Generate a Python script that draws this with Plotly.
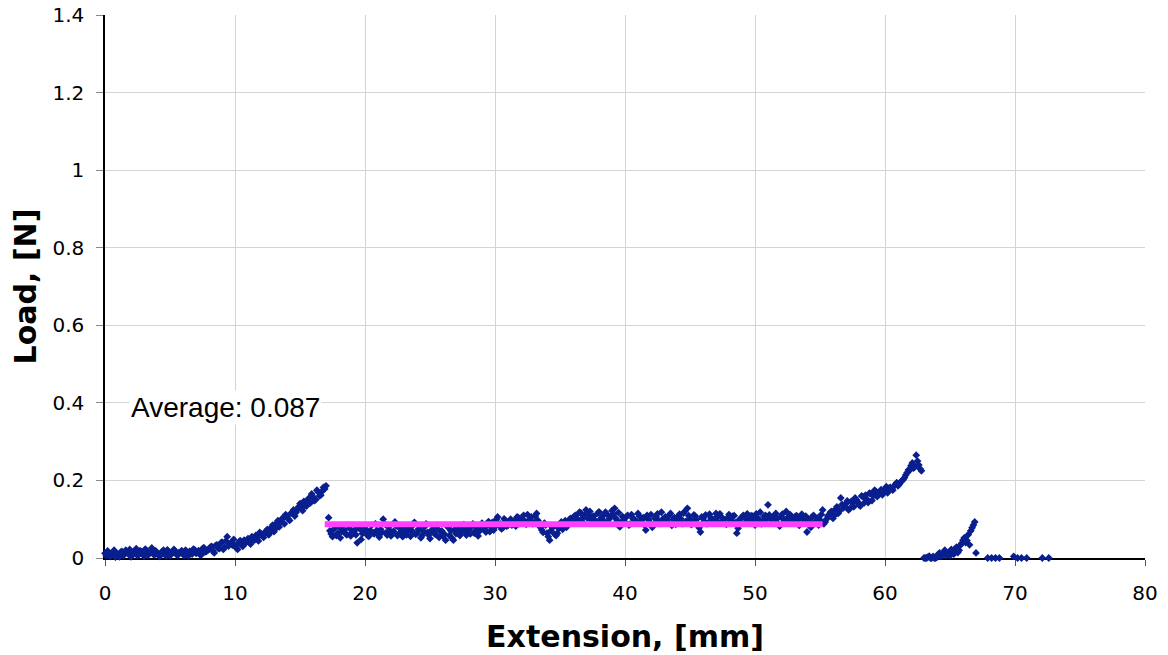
import plotly.graph_objects as go

# Load vs extension readings, grouped by test phase
ext_a = [0.0, 0.2, 0.4, 0.6, 0.8, 1.0, 1.2, 1.4, 1.6, 1.8,
         2.0, 2.2, 2.4, 2.6, 2.8, 3.0, 3.2, 3.4, 3.6, 3.8,
         4.0, 4.2, 4.4, 4.6, 4.8, 5.0, 5.2, 5.4, 5.6, 5.8,
         6.0, 6.2, 6.4, 6.6, 6.8, 7.0, 7.2, 7.4, 7.6, 7.8,
         8.0, 8.2, 8.4, 8.6, 8.8, 9.0, 9.2, 9.4, 9.6, 9.8]
load_a = [0.012, 0.018, 0.004, 0.010, 0.002, 0.008, 0.015, 0.006, 0.020, 0.011,
          0.003, 0.013, 0.024, 0.009, 0.016, 0.005, 0.019, 0.012, 0.026, 0.008,
          0.014, 0.004, 0.017, 0.010, 0.021, 0.006, 0.013, 0.018, 0.007, 0.015,
          0.011, 0.020, 0.005, 0.016, 0.023, 0.012, 0.019, 0.008, 0.027, 0.017,
          0.022, 0.030, 0.013, 0.034, 0.024, 0.041, 0.028, 0.055, 0.036, 0.033]
ext_a2 = [0.1, 0.3, 0.5, 0.7, 0.9, 1.1, 1.3, 1.5, 1.7, 1.9,
          2.1, 2.3, 2.5, 2.7, 2.9, 3.1, 3.3, 3.5, 3.7, 3.9,
          4.1, 4.3, 4.5, 4.7, 4.9, 5.1, 5.3, 5.5, 5.7, 5.9,
          6.1, 6.3, 6.5, 6.7, 6.9, 7.1, 7.3, 7.5, 7.7, 7.9,
          8.1, 8.3, 8.5, 8.7, 8.9, 9.1, 9.3, 9.5, 9.7, 9.9]
load_a2 = [0.006, 0.014, 0.009, 0.020, 0.012, 0.003, 0.017, 0.010, 0.013, 0.022,
           0.008, 0.016, 0.006, 0.019, 0.011, 0.023, 0.007, 0.015, 0.010, 0.018,
           0.009, 0.012, 0.020, 0.005, 0.016, 0.011, 0.022, 0.009, 0.014, 0.019,
           0.006, 0.013, 0.017, 0.010, 0.021, 0.014, 0.009, 0.024, 0.016, 0.020,
           0.028, 0.018, 0.032, 0.025, 0.038, 0.022, 0.044, 0.031, 0.040, 0.048]

ext_b = [10.0, 10.2, 10.4, 10.6, 10.8, 11.0, 11.2, 11.4, 11.6, 11.8,
         12.0, 12.2, 12.4, 12.6, 12.8, 13.0, 13.2, 13.4, 13.6, 13.8,
         14.0, 14.2, 14.4, 14.6, 14.8, 15.0, 15.2, 15.4, 15.6, 15.8,
         16.0, 16.2, 16.4, 16.6, 16.8, 17.0]
load_b = [0.032, 0.022, 0.045, 0.030, 0.038, 0.050, 0.036, 0.048, 0.058, 0.044,
          0.062, 0.053, 0.070, 0.060, 0.078, 0.068, 0.090, 0.080, 0.100, 0.088,
          0.106, 0.097, 0.118, 0.108, 0.126, 0.140, 0.122, 0.136, 0.150, 0.142,
          0.158, 0.150, 0.170, 0.162, 0.182, 0.186]
ext_b2 = [10.1, 10.3, 10.5, 10.7, 10.9, 11.1, 11.3, 11.5, 11.7, 11.9,
          12.1, 12.3, 12.5, 12.7, 12.9, 13.1, 13.3, 13.5, 13.7, 13.9,
          14.1, 14.3, 14.5, 14.7, 14.9, 15.1, 15.3, 15.5, 15.7, 15.9,
          16.1, 16.3, 16.5, 16.7, 16.9]
load_b2 = [0.026, 0.040, 0.034, 0.046, 0.042, 0.040, 0.055, 0.046, 0.052, 0.066,
           0.058, 0.065, 0.074, 0.066, 0.085, 0.075, 0.096, 0.092, 0.104, 0.112,
           0.100, 0.115, 0.124, 0.118, 0.132, 0.128, 0.146, 0.134, 0.155, 0.165,
           0.148, 0.175, 0.160, 0.172, 0.178]

ext_c = [17.2, 17.4, 17.6, 17.8, 18.0, 18.2, 18.4, 18.6, 18.8, 19.0,
         19.2, 19.4, 19.6, 19.8, 20.0, 20.2, 20.4, 20.6, 20.8, 21.0,
         21.2, 21.4, 21.6, 21.8, 22.0, 22.2, 22.4, 22.6, 22.8, 23.0,
         23.2, 23.4, 23.6, 23.8, 24.0, 24.2, 24.4, 24.6, 24.8, 25.0,
         25.2, 25.4, 25.6, 25.8, 26.0, 26.2, 26.4, 26.6, 26.8, 27.0,
         27.2, 27.4, 27.6, 27.8, 28.0, 28.2, 28.4, 28.6, 28.8, 29.0,
         29.2, 29.4, 29.6, 29.8, 30.0, 30.2, 30.4, 30.6, 30.8, 31.0,
         31.2, 31.4, 31.6, 31.8, 32.0, 32.2, 32.4, 32.6, 32.8, 33.0,
         33.2, 33.4, 33.6, 33.8, 34.0, 34.2, 34.4, 34.6, 34.8, 35.0,
         35.2, 35.4, 35.6, 35.8, 36.0, 36.2, 36.4, 36.6, 36.8, 37.0,
         37.2, 37.4, 37.6, 37.8, 38.0, 38.2, 38.4, 38.6, 38.8, 39.0,
         39.2, 39.4, 39.6, 39.8, 40.0, 40.2, 40.4, 40.6, 40.8, 41.0,
         41.2, 41.4, 41.6, 41.8, 42.0, 42.2, 42.4, 42.6, 42.8, 43.0,
         43.2, 43.4, 43.6, 43.8, 44.0, 44.2, 44.4, 44.6, 44.8, 45.0,
         45.2, 45.4, 45.6, 45.8, 46.0, 46.2, 46.4, 46.6, 46.8, 47.0,
         47.2, 47.4, 47.6, 47.8, 48.0, 48.2, 48.4, 48.6, 48.8, 49.0,
         49.2, 49.4, 49.6, 49.8, 50.0, 50.2, 50.4, 50.6, 50.8, 51.0,
         51.2, 51.4, 51.6, 51.8, 52.0, 52.2, 52.4, 52.6, 52.8, 53.0,
         53.2, 53.4, 53.6, 53.8, 54.0, 54.2, 54.4, 54.6, 54.8, 55.0,
         55.2]
load_c = [0.104, 0.062, 0.074, 0.058, 0.080, 0.068, 0.072, 0.060, 0.077, 0.066,
          0.071, 0.039, 0.076, 0.063, 0.082, 0.058, 0.070, 0.066, 0.088, 0.061,
          0.074, 0.100, 0.065, 0.079, 0.057, 0.069, 0.083, 0.062, 0.073, 0.068,
          0.060, 0.078, 0.070, 0.092, 0.064, 0.075, 0.058, 0.081, 0.066, 0.050,
          0.072, 0.061, 0.084, 0.068, 0.057, 0.046, 0.079, 0.070, 0.046, 0.063,
          0.075, 0.066, 0.086, 0.059, 0.072, 0.081, 0.064, 0.078, 0.069, 0.090,
          0.074, 0.085, 0.068, 0.092, 0.080, 0.106, 0.088, 0.078, 0.096, 0.084,
          0.100, 0.090, 0.082, 0.104, 0.095, 0.110, 0.087, 0.098, 0.106, 0.092,
          0.115, 0.083, 0.072, 0.090, 0.064, 0.046, 0.078, 0.061, 0.064, 0.088,
          0.074, 0.096, 0.085, 0.102, 0.094, 0.110, 0.099, 0.116, 0.105, 0.124,
          0.112, 0.098, 0.108, 0.092, 0.119, 0.104, 0.095, 0.113, 0.101, 0.122,
          0.128, 0.096, 0.080, 0.107, 0.093, 0.110, 0.088, 0.102, 0.097, 0.115,
          0.090, 0.104, 0.072, 0.099, 0.112, 0.086, 0.106, 0.095, 0.118, 0.092,
          0.100, 0.110, 0.084, 0.104, 0.096, 0.113, 0.089, 0.120, 0.128, 0.101,
          0.094, 0.108, 0.086, 0.067, 0.102, 0.111, 0.091, 0.104, 0.098, 0.115,
          0.092, 0.106, 0.100, 0.087, 0.112, 0.096, 0.109, 0.064, 0.099, 0.105,
          0.090, 0.114, 0.097, 0.108, 0.085, 0.103, 0.118, 0.094, 0.110, 0.137,
          0.102, 0.093, 0.115, 0.088, 0.107, 0.099, 0.120, 0.091, 0.104, 0.096,
          0.109, 0.084, 0.113, 0.100, 0.067, 0.094, 0.106, 0.090, 0.103, 0.098,
          0.124]
ext_c2 = [17.3, 17.5, 17.7, 17.9, 18.1, 18.3, 18.5, 18.7, 18.9, 19.1,
          19.3, 19.5, 19.7, 19.9, 20.1, 20.3, 20.5, 20.7, 20.9, 21.1,
          21.3, 21.5, 21.7, 21.9, 22.1, 22.3, 22.5, 22.7, 22.9, 23.1,
          23.3, 23.5, 23.7, 23.9, 24.1, 24.3, 24.5, 24.7, 24.9, 25.1,
          25.3, 25.5, 25.7, 25.9, 26.1, 26.3, 26.5, 26.7, 26.9, 27.1,
          27.3, 27.5, 27.7, 27.9, 28.1, 28.3, 28.5, 28.7, 28.9, 29.1,
          29.3, 29.5, 29.7, 29.9, 30.1, 30.3, 30.5, 30.7, 30.9, 31.1,
          31.3, 31.5, 31.7, 31.9, 32.1, 32.3, 32.5, 32.7, 32.9, 33.1,
          33.3, 33.5, 33.7, 33.9, 34.1, 34.3, 34.5, 34.7, 34.9, 35.1,
          35.3, 35.5, 35.7, 35.9, 36.1, 36.3, 36.5, 36.7, 36.9, 37.1,
          37.3, 37.5, 37.7, 37.9, 38.1, 38.3, 38.5, 38.7, 38.9, 39.1,
          39.3, 39.5, 39.7, 39.9, 40.1, 40.3, 40.5, 40.7, 40.9, 41.1,
          41.3, 41.5, 41.7, 41.9, 42.1, 42.3, 42.5, 42.7, 42.9, 43.1,
          43.3, 43.5, 43.7, 43.9, 44.1, 44.3, 44.5, 44.7, 44.9, 45.1,
          45.3, 45.5, 45.7, 45.9, 46.1, 46.3, 46.5, 46.7, 46.9, 47.1,
          47.3, 47.5, 47.7, 47.9, 48.1, 48.3, 48.5, 48.7, 48.9, 49.1,
          49.3, 49.5, 49.7, 49.9, 50.1, 50.3, 50.5, 50.7, 50.9, 51.1,
          51.3, 51.5, 51.7, 51.9, 52.1, 52.3, 52.5, 52.7, 52.9, 53.1,
          53.3, 53.5, 53.7, 53.9, 54.1, 54.3, 54.5, 54.7, 54.9, 55.1]
load_c2 = [0.070, 0.055, 0.081, 0.064, 0.052, 0.075, 0.063, 0.085, 0.057, 0.069,
           0.060, 0.078, 0.048, 0.067, 0.073, 0.056, 0.084, 0.062, 0.071, 0.054,
           0.066, 0.088, 0.059, 0.071, 0.064, 0.093, 0.058, 0.076, 0.055, 0.080,
           0.069, 0.056, 0.085, 0.061, 0.074, 0.052, 0.068, 0.088, 0.059, 0.071,
           0.065, 0.077, 0.053, 0.070, 0.062, 0.083, 0.058, 0.051, 0.074, 0.066,
           0.058, 0.080, 0.069, 0.074, 0.062, 0.088, 0.070, 0.057, 0.082, 0.075,
           0.067, 0.094, 0.079, 0.072, 0.099, 0.086, 0.075, 0.101, 0.082, 0.091,
           0.085, 0.097, 0.106, 0.089, 0.100, 0.094, 0.112, 0.096, 0.088, 0.108,
           0.097, 0.079, 0.066, 0.085, 0.055, 0.070, 0.082, 0.058, 0.076, 0.093,
           0.088, 0.079, 0.098, 0.090, 0.108, 0.101, 0.118, 0.094, 0.110, 0.103,
           0.120, 0.106, 0.096, 0.115, 0.100, 0.109, 0.118, 0.090, 0.107, 0.112,
           0.102, 0.117, 0.090, 0.099, 0.106, 0.085, 0.112, 0.100, 0.094, 0.108,
           0.098, 0.085, 0.110, 0.093, 0.079, 0.102, 0.114, 0.089, 0.100, 0.106,
           0.093, 0.115, 0.099, 0.087, 0.108, 0.101, 0.116, 0.095, 0.109, 0.086,
           0.111, 0.099, 0.078, 0.106, 0.095, 0.088, 0.113, 0.100, 0.092, 0.107,
           0.114, 0.095, 0.089, 0.104, 0.098, 0.108, 0.091, 0.077, 0.102, 0.110,
           0.103, 0.092, 0.109, 0.096, 0.114, 0.099, 0.088, 0.107, 0.100, 0.111,
           0.097, 0.110, 0.101, 0.082, 0.113, 0.095, 0.104, 0.112, 0.090, 0.107,
           0.098, 0.104, 0.091, 0.108, 0.100, 0.079, 0.110, 0.096, 0.085, 0.112]

ext_d = [55.4, 55.6, 55.8, 56.0, 56.2, 56.4, 56.6, 56.8, 57.0, 57.2,
         57.4, 57.6, 57.8, 58.0, 58.2, 58.4, 58.6, 58.8, 59.0, 59.2,
         59.4, 59.6, 59.8, 60.0, 60.2, 60.4, 60.6, 60.8, 61.0, 61.2,
         61.4, 61.6, 61.8, 62.0, 62.2, 62.4, 62.6, 62.8]
load_d = [0.093, 0.108, 0.118, 0.102, 0.126, 0.115, 0.155, 0.129, 0.140, 0.124,
          0.146, 0.132, 0.150, 0.137, 0.160, 0.142, 0.152, 0.167, 0.148, 0.175,
          0.158, 0.170, 0.163, 0.178, 0.168, 0.182, 0.175, 0.190, 0.186, 0.196,
          0.202, 0.214, 0.227, 0.238, 0.232, 0.265, 0.240, 0.225]
ext_d2 = [55.3, 55.5, 55.7, 55.9, 56.1, 56.3, 56.5, 56.7, 56.9, 57.1,
          57.3, 57.5, 57.7, 57.9, 58.1, 58.3, 58.5, 58.7, 58.9, 59.1,
          59.3, 59.5, 59.7, 59.9, 60.1, 60.3, 60.5, 60.7, 60.9, 61.1,
          61.3, 61.5, 61.7, 61.9, 62.1, 62.3, 62.5, 62.7]
load_d2 = [0.088, 0.100, 0.112, 0.120, 0.109, 0.132, 0.121, 0.138, 0.133, 0.147,
           0.128, 0.141, 0.155, 0.145, 0.134, 0.158, 0.162, 0.143, 0.166, 0.160,
           0.172, 0.165, 0.176, 0.170, 0.184, 0.180, 0.178, 0.185, 0.194, 0.190,
           0.199, 0.207, 0.220, 0.226, 0.245, 0.235, 0.250, 0.230]

ext_e = [63.0, 63.1, 63.2, 63.3, 63.4, 63.5, 63.6, 63.7, 63.8, 63.9,
         64.0, 64.1, 64.2, 64.3, 64.4, 64.5, 64.6, 64.7, 64.8, 64.9,
         65.0, 65.1, 65.2, 65.3, 65.4, 65.5, 65.6, 65.7, 65.8, 65.9,
         66.0, 66.1, 66.2, 66.3, 66.4, 66.5, 66.6, 66.7, 66.8, 66.9, 67.0]
load_e = [0.000, 0.000, 0.000, 0.002, 0.005, 0.000, 0.000, 0.004, 0.000, 0.000,
          0.002, 0.010, 0.013, 0.004, 0.008, 0.014, 0.020, 0.006, 0.010, 0.012,
          0.006, 0.022, 0.018, 0.010, 0.024, 0.028, 0.014, 0.020, 0.033, 0.038,
          0.046, 0.052, 0.040, 0.045, 0.060, 0.034, 0.070, 0.078, 0.085, 0.093, 0.013]

ext_f = [67.9, 68.2, 68.5, 68.8, 69.9, 70.2, 70.5, 70.9, 72.1, 72.6]
load_f = [0.000, 0.000, 0.000, 0.000, 0.004, 0.000, 0.000, 0.000, 0.000, 0.000]

# Plateau average over the steady peel region
avg_load = 0.087
avg_span = [16.9, 55.2]

x_ticks = [0, 10, 20, 30, 40, 50, 60, 70, 80]
y_ticks = [0, 0.2, 0.4, 0.6, 0.8, 1.0, 1.2, 1.4]
y_tick_text = ["0", "0.2", "0.4", "0.6", "0.8", "1", "1.2", "1.4"]

ext_all = ext_a + ext_a2 + ext_b + ext_b2 + ext_c + ext_c2 + ext_d + ext_d2 + ext_e + ext_f
load_all = load_a + load_a2 + load_b + load_b2 + load_c + load_c2 + load_d + load_d2 + load_e + load_f

fig = go.Figure()
fig.add_trace(go.Scatter(
    x=ext_all, y=load_all, mode="markers",
    marker=dict(symbol="diamond", size=6, color="#0a1f8f", line=dict(width=0)),
    cliponaxis=False, showlegend=False,
))
fig.add_trace(go.Scatter(
    x=avg_span, y=[avg_load, avg_load], mode="lines",
    line=dict(color="#ff40ff", width=6), showlegend=False,
))

fig.add_annotation(
    x=1.85, y=0.387, xref="x", yref="y", xanchor="left", yanchor="middle",
    text=f"Average: {avg_load}", showarrow=False,
    font=dict(family="Liberation Sans, Arial", size=28, color="black"),
    bgcolor="white",
)

axis_font = dict(family="DejaVu Sans, Verdana", size=20, color="black")
title_font = dict(family="DejaVu Sans, Verdana", size=30, color="black")

fig.update_layout(
    width=1168, height=655,
    margin=dict(l=105, r=23, t=15, b=97),
    paper_bgcolor="white", plot_bgcolor="white",
)
fig.update_xaxes(
    range=[0, 80], tickvals=x_ticks, ticktext=[str(v) for v in x_ticks],
    showgrid=True, gridcolor="#d4d4d4", gridwidth=1,
    showline=True, linecolor="black", linewidth=1.5,
    ticks="outside", ticklen=6, tickcolor="#555555",
    tickfont=axis_font, zeroline=False, layer="below traces",
    ticklabelstandoff=10, automargin=False,
    title=dict(text="<b>Extension, [mm]</b>", font=title_font, standoff=22),
)
fig.update_yaxes(
    range=[0, 1.4], tickvals=y_ticks, ticktext=y_tick_text,
    showgrid=True, gridcolor="#d4d4d4", gridwidth=1,
    showline=True, linecolor="black", linewidth=1.5,
    ticks="outside", ticklen=7, tickcolor="#888888",
    tickfont=axis_font, zeroline=False, layer="below traces",
    ticklabelstandoff=8, automargin=False,
    title=dict(text="<b>Load, [N]</b>", font=title_font, standoff=7),
)

fig.write_html("out.html")
